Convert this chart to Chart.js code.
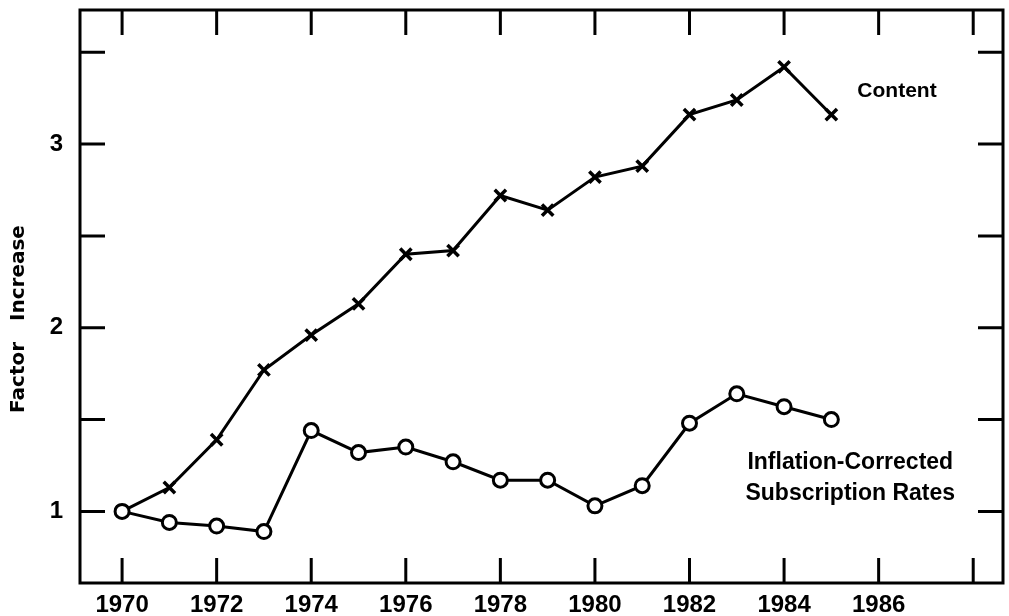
<!DOCTYPE html>
<html>
<head>
<meta charset="utf-8">
<script src="https://cdn.jsdelivr.net/npm/chart.js@4/dist/chart.umd.min.js"></script>
<style>
  html, body { margin: 0; padding: 0; background: #fff; }
  #wrap { width: 1009px; height: 616px; }
</style>
</head>
<body>
<div id="wrap"><canvas id="chart" width="1009" height="616"></canvas></div>
<script>
const years = [1970, 1971, 1972, 1973, 1974, 1975, 1976, 1977, 1978, 1979, 1980, 1981, 1982, 1983, 1984, 1985];
const contentValues = [1.0, 1.13, 1.39, 1.77, 1.96, 2.13, 2.40, 2.42, 2.72, 2.64, 2.82, 2.88, 3.16, 3.24, 3.42, 3.16];
const subscriptionValues = [1.0, 0.94, 0.92, 0.89, 1.44, 1.32, 1.35, 1.27, 1.17, 1.17, 1.03, 1.14, 1.48, 1.64, 1.57, 1.50];
const xTickYears = [1970, 1972, 1974, 1976, 1978, 1980, 1982, 1984, 1986, 1988];
const xLabelYears = [1970, 1972, 1974, 1976, 1978, 1980, 1982, 1984, 1986];
const yTickValues = [1, 1.5, 2, 2.5, 3, 3.5];
const yLabelValues = [1, 2, 3];

const tickFont = { family: "Liberation Sans", weight: "bold", size: 24 };

// inside ticks, frame and text labels
const framePlugin = {
  id: "frame",
  beforeDatasetsDraw(chart) {
    const { ctx, chartArea: a, scales } = chart;
    ctx.save();
    ctx.strokeStyle = "#000";
    ctx.lineWidth = 3;
    ctx.strokeRect(a.left, a.top, a.right - a.left, a.bottom - a.top);
    const len = 25;
    ctx.beginPath();
    xTickYears.forEach((v) => {
      const x = scales.x.getPixelForValue(v);
      ctx.moveTo(x, a.bottom); ctx.lineTo(x, a.bottom - len);
      ctx.moveTo(x, a.top); ctx.lineTo(x, a.top + len);
    });
    yTickValues.forEach((v) => {
      const y = scales.y.getPixelForValue(v);
      ctx.moveTo(a.left, y); ctx.lineTo(a.left + len, y);
      ctx.moveTo(a.right, y); ctx.lineTo(a.right - len, y);
    });
    ctx.stroke();
    ctx.restore();
  },
  afterDraw(chart) {
    const { ctx, scales } = chart;
    ctx.save();
    ctx.fillStyle = "#000";
    ctx.textBaseline = "middle";
    ctx.font = "bold 21px 'Liberation Sans'";
    ctx.textAlign = "left";
    ctx.fillText("Content", scales.x.getPixelForValue(1985.55), scales.y.getPixelForValue(3.29));
    ctx.font = "bold 23px 'Liberation Sans'";
    ctx.textAlign = "center";
    const cx = scales.x.getPixelForValue(1985.4);
    ctx.fillText("Inflation-Corrected", cx, scales.y.getPixelForValue(1.267));
    ctx.fillText("Subscription Rates", cx, scales.y.getPixelForValue(1.098));
    // y axis title
    ctx.translate(19, 319);
    ctx.rotate(-Math.PI / 2);
    ctx.font = "bold 20px 'DejaVu Sans'";
    ctx.fillText("Factor   Increase", 0, 0);
    ctx.restore();
  },
};

new Chart(document.getElementById("chart"), {
  type: "line",
  data: {
    datasets: [
      {
        label: "Content",
        data: years.map((y, i) => ({ x: y, y: contentValues[i] })),
        order: 2,
        borderColor: "#000",
        borderWidth: 3,
        pointStyle: "crossRot",
        pointRadius: 8,
        pointBorderWidth: 3.5,
        pointBorderColor: "#000",
        tension: 0,
      },
      {
        label: "Inflation-Corrected Subscription Rates",
        data: years.map((y, i) => ({ x: y, y: subscriptionValues[i] })),
        order: 1,
        borderColor: "#000",
        borderWidth: 3,
        pointStyle: "circle",
        pointRadius: 7,
        pointBorderWidth: 3,
        pointBorderColor: "#000",
        pointBackgroundColor: "#fff",
        tension: 0,
      },
    ],
  },
  options: {
    responsive: false,
    animation: false,
    events: [],
    layout: { autoPadding: false, padding: { top: 10, right: 6, left: 0, bottom: 0 } },
    plugins: { legend: { display: false }, tooltip: { enabled: false } },
    scales: {
      x: {
        type: "linear",
        min: 1969.11,
        max: 1988.63,
        grid: { display: false, drawTicks: false },
        border: { display: false },
        afterBuildTicks: (scale) => {
          scale.ticks = xTickYears.map((v) => ({ value: v }));
        },
        afterFit: (scale) => {
          scale.height = 33;
          scale.paddingLeft = 0;
          scale.paddingRight = 0;
        },
        ticks: {
          padding: 8,
          color: "#000",
          font: tickFont,
          maxRotation: 0,
          autoSkip: false,
          callback: (v) => (xLabelYears.includes(v) ? String(v) : ""),
        },
      },
      y: {
        min: 0.61,
        max: 3.73,
        grid: { display: false, drawTicks: false },
        border: { display: false },
        afterBuildTicks: (scale) => {
          scale.ticks = yTickValues.map((v) => ({ value: v }));
        },
        afterFit: (scale) => {
          scale.width = 80;
          scale.paddingTop = 0;
          scale.paddingBottom = 0;
        },
        ticks: {
          padding: 17,
          color: "#000",
          font: tickFont,
          autoSkip: false,
          callback: (v) => (yLabelValues.includes(v) ? String(v) : ""),
        },
      },
    },
  },
  plugins: [framePlugin],
});
</script>
</body>
</html>
